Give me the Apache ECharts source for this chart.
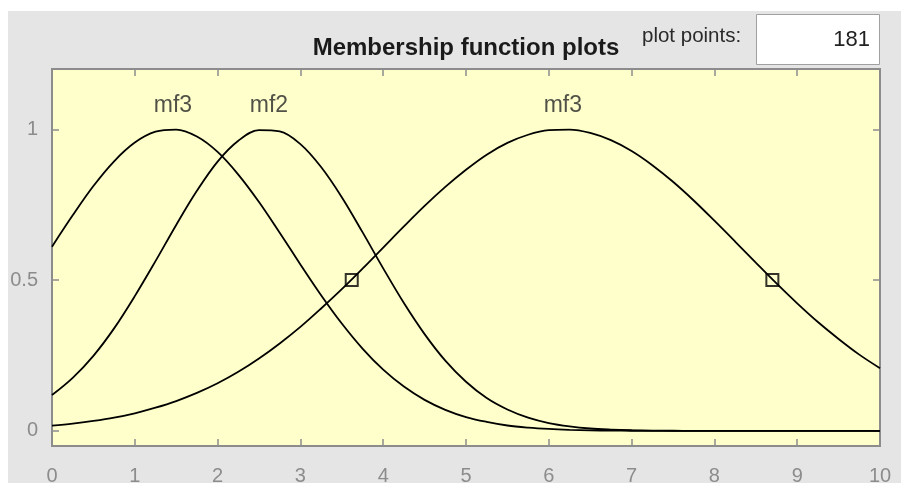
<!DOCTYPE html>
<html>
<head>
<meta charset="utf-8">
<script src="https://cdn.jsdelivr.net/npm/echarts@6/dist/echarts.min.js"></script>
<style>
  html, body { margin: 0; padding: 0; background: #fff; }
  #chart { width: 901px; height: 483px; }
</style>
</head>
<body>
<div id="chart"></div>
<script>
// x positions the curves were read at (every 0.25)
const xValues = [
  0, 0.25, 0.5, 0.75, 1, 1.25, 1.5, 1.75, 2, 2.25, 2.5, 2.75, 3, 3.25, 3.5, 3.75,
  4, 4.25, 4.5, 4.75, 5, 5.25, 5.5, 5.75, 6, 6.25, 6.5, 6.75, 7, 7.25, 7.5, 7.75,
  8, 8.25, 8.5, 8.75, 9, 9.25, 9.5, 9.75, 10
]
// left mf3
const mf3aValues = [
  0.611, 0.715, 0.812, 0.894, 0.956, 0.992, 0.999, 0.976, 0.925, 0.850, 0.759, 0.657,
  0.552, 0.450, 0.356, 0.273, 0.203, 0.147, 0.103, 0.070, 0.046, 0.030, 0.018, 0.011,
  0.0065, 0.0037, 0.002, 0.001, 0.0006, 0.0003, 0.0001, 0, 0, 0, 0, 0, 0, 0, 0, 0, 0
]
const mf2Values = [
  0.119, 0.176, 0.249, 0.340, 0.447, 0.563, 0.683, 0.796, 0.893, 0.962, 0.997, 0.993,
  0.951, 0.875, 0.775, 0.659, 0.539, 0.424, 0.321, 0.233, 0.163, 0.109, 0.071, 0.044,
  0.026, 0.015, 0.008, 0.0044, 0.0022, 0.0011, 0.0005, 0.0002, 0.0001, 0, 0, 0, 0, 0, 0, 0, 0
]
// wide mf3 on the right
const mf3bValues = [
  0.0175, 0.024, 0.033, 0.044, 0.0585, 0.077, 0.099, 0.126, 0.158, 0.196, 0.240, 0.290,
  0.345, 0.406, 0.470, 0.538, 0.608, 0.678, 0.746, 0.809, 0.866, 0.916, 0.955, 0.982,
  0.997, 0.999, 0.988, 0.964, 0.928, 0.881, 0.826, 0.764, 0.697, 0.628, 0.558, 0.489,
  0.423, 0.361, 0.305, 0.253, 0.208
]
const markerX = [3.62, 8.7]
const markerY = [0.5, 0.5]

const mfNames = ['mf3', 'mf2', 'mf3']
const mfLabelX = [1.46, 2.62, 6.17]
const mfLabelY = [1.08, 1.08, 1.08]

const xTicks = [0, 1, 2, 3, 4, 5, 6, 7, 8, 9, 10]
const yTicks = [0, 0.5, 1]

const font = '"Liberation Sans", Arial, sans-serif'
const axisGray = '#8c8c8c'

const curve = vals => ({
  type: 'line',
  data: xValues.map((x, i) => [x, vals[i]]),
  showSymbol: false,
  smooth: 0.35,
  lineStyle: { color: '#000', width: 1.8 },
  z: 3
})

const tick = { inside: true, length: 7, lineStyle: { color: axisGray, width: 1.5 } }

const chart = echarts.init(document.getElementById('chart'))

chart.setOption({
  animation: false,
  backgroundColor: '#fff',
  graphic: [
    { type: 'rect', z: -100, silent: true,
      shape: { x: 8, y: 11, width: 893, height: 472 },
      style: { fill: '#e5e5e5' } },
    { type: 'text', z: 10,
      style: { text: 'Membership function plots', x: 466, y: 48,
        font: 'bold 24px ' + font, fill: '#1a1a1a', align: 'center', verticalAlign: 'middle' } },
    { type: 'text', z: 10,
      style: { text: 'plot points:', x: 642, y: 36,
        font: '20.5px ' + font, fill: '#2a2a2a', align: 'left', verticalAlign: 'middle' } },
    { type: 'rect', z: 10,
      shape: { x: 756.5, y: 14.5, width: 123, height: 50 },
      style: { fill: '#fff', stroke: '#a0a0a0', lineWidth: 1 } },
    { type: 'text', z: 11,
      style: { text: String(181), x: 870, y: 40,
        font: '22px ' + font, fill: '#222', align: 'right', verticalAlign: 'middle' } }
  ],
  grid: {
    left: 52, right: 21, top: 69, bottom: 37,
    outerBoundsMode: 'none',
    containLabel: false,
    show: true,
    backgroundColor: '#ffffcc',
    borderColor: axisGray,
    borderWidth: 2
  },
  xAxis: [
    {
      type: 'value', min: 0, max: 10, interval: 1,
      axisLine: { show: false, onZero: false },
      axisTick: tick,
      axisLabel: { color: '#8c8c8c', fontSize: 20, fontFamily: font, margin: 20 },
      splitLine: { show: false }
    },
    {
      type: 'value', position: 'top', min: 0, max: 10, interval: 1,
      axisLine: { show: false, onZero: false },
      axisTick: tick,
      axisLabel: { show: false },
      splitLine: { show: false }
    }
  ],
  yAxis: [
    {
      type: 'value', min: -0.05, max: 1.2,
      axisLine: { show: false, onZero: false },
      axisTick: Object.assign({ customValues: yTicks }, tick),
      axisLabel: { color: '#8c8c8c', fontSize: 20, fontFamily: font, margin: 14,
        customValues: yTicks, formatter: v => String(v) },
      splitLine: { show: false }
    },
    {
      type: 'value', position: 'right', min: -0.05, max: 1.2,
      axisLine: { show: false, onZero: false },
      axisTick: Object.assign({ customValues: yTicks }, tick),
      axisLabel: { show: false },
      splitLine: { show: false }
    }
  ],
  series: [
    curve(mf3aValues),
    curve(mf2Values),
    curve(mf3bValues),
    {
      type: 'scatter',
      data: markerX.map((x, i) => [x, markerY[i]]),
      symbol: 'rect',
      symbolSize: 12,
      itemStyle: { color: 'rgba(0,0,0,0)', borderColor: '#000', borderWidth: 2 },
      z: 4
    },
    {
      type: 'scatter',
      data: mfLabelX.map((x, i) => ({ value: [x, mfLabelY[i]], name: mfNames[i] })),
      symbolSize: 0,
      silent: true,
      label: {
        show: true, position: 'inside', formatter: p => p.name,
        color: '#262626', fontSize: 23, fontFamily: font
      },
      z: 5
    }
  ]
})
</script>
</body>
</html>
